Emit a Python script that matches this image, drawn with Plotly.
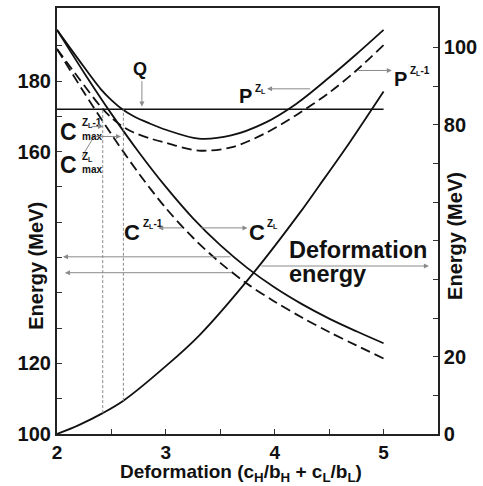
import numpy as np
import plotly.graph_objects as go

# ---------------- data ----------------
# deformation coordinate  (c_H/b_H + c_L/b_L)
x_P_ZL  = [2.0, 2.2, 2.4, 2.5, 2.6, 2.7, 2.85, 3.0, 3.3, 3.6, 3.9, 4.2, 4.5, 4.75, 5.0]
E_P_ZL  = [194.5, 186.0, 177.8, 174.6, 172.0, 170.1, 168.0, 166.2, 163.7, 164.6, 168.0, 173.6, 181.0, 187.6, 194.5]

x_P_ZL1 = [2.0, 2.2, 2.4, 2.5, 2.6, 2.7, 2.85, 3.0, 3.3, 3.6, 3.9, 4.2, 4.5, 4.75, 5.0]
E_P_ZL1 = [189.1, 180.8, 172.8, 169.6, 167.2, 165.5, 163.8, 162.5, 160.3, 161.2, 165.0, 170.4, 176.7, 183.0, 190.2]

x_C_ZL  = [2.0, 2.25, 2.5, 2.75, 3.0, 3.25, 3.5, 3.75, 4.0, 4.25, 4.5, 4.75, 5.0]
E_C_ZL  = [194.5, 182.3, 170.7, 159.9, 150.0, 141.1, 133.5, 127.0, 121.5, 116.8, 112.7, 109.1, 105.7]

x_C_ZL1 = [2.0, 2.25, 2.5, 2.75, 3.0, 3.25, 3.5, 3.75, 4.0, 4.25, 4.5, 4.75, 5.0]
E_C_ZL1 = [189.1, 176.7, 164.9, 153.9, 144.0, 135.6, 128.5, 122.5, 117.5, 113.0, 108.9, 105.1, 101.4]

# deformation energy (right axis)
x_def = [2.0, 2.2, 2.42, 2.61, 3.01, 3.31, 3.80, 4.23, 4.41, 4.69, 5.0]
E_def = [0.0, 2.3, 5.4, 8.6, 17.8, 25.6, 41.5, 57.2, 64.3, 75.5, 88.6]

Q_value = 172.0
Q_x = [2.0, 5.0]
x_Cmax = [2.42, 2.61]          # C_max^{ZL-1}, C_max^{ZL}

# axes (left scale of the original jumps between 120 and 160)
x_range = [2.0, 5.5]
left_range = [80.0, 200.7]
right_range = [0.0, 110.2]
x_tickvals = [2, 3, 4, 5]
x_ticktext = ["2", "3", "4", "5"]
x_minor = [2.5, 3.5, 4.5]
left_tickvals = [80, 100, 160, 180]
left_ticktext = ["100", "120", "160", "180"]
left_minor = [90, 110, 120, 130, 140, 150, 170, 190]
right_tickvals = [0, 20, 80, 100]
right_ticktext = ["0", "20", "80", "100"]
right_minor = [10, 30, 40, 50, 60, 70, 90]

# ---------------- figure ----------------
FONT = "Liberation Sans, Arial, sans-serif"
INK = "#111111"
GREY = "#8a8a8a"

fig = go.Figure()

solid = dict(color=INK, width=1.8, shape="spline", smoothing=0.9)
dashed = dict(color=INK, width=1.8, shape="spline", smoothing=0.9, dash="10px,5px")

fig.add_trace(go.Scatter(x=x_P_ZL, y=E_P_ZL, mode="lines", line=solid))
fig.add_trace(go.Scatter(x=x_P_ZL1, y=E_P_ZL1, mode="lines", line=dashed))
fig.add_trace(go.Scatter(x=x_C_ZL, y=E_C_ZL, mode="lines", line=solid))
fig.add_trace(go.Scatter(x=x_C_ZL1, y=E_C_ZL1, mode="lines", line=dashed))
fig.add_trace(go.Scatter(x=Q_x, y=[Q_value, Q_value], mode="lines",
                         line=dict(color=INK, width=1.6)))
fig.add_trace(go.Scatter(x=x_def, y=E_def, mode="lines", yaxis="y2", line=solid))

# vertical dotted lines from Q down to deformation-energy curve (on right scale)
q_right = (Q_value - left_range[0]) / (left_range[1] - left_range[0]) * (right_range[1] - right_range[0])
for xc in x_Cmax:
    d = float(np.interp(xc, x_def, E_def))
    fig.add_trace(go.Scatter(x=[xc, xc], y=[d, q_right], mode="lines", yaxis="y2",
                             line=dict(color=GREY, width=1, dash="3px,2px")))

ann = []

def text(x, y, t, size, xanchor="center", yanchor="middle"):
    ann.append(dict(x=x, y=y, xref="x", yref="y", text=t, showarrow=False,
                    xanchor=xanchor, yanchor=yanchor,
                    font=dict(family=FONT, size=size, color=INK, weight="bold")))

def arrow(x, y, ax, ay):
    ann.append(dict(x=x, y=y, ax=ax, ay=ay, xref="x", yref="y", axref="x", ayref="y",
                    text="", showarrow=True, arrowhead=2, arrowsize=1.0,
                    arrowwidth=1, arrowcolor=GREY))

SUP = 10
# Q
text(2.762, 183.5, "Q", 18)
arrow(2.78, 172.8, 2.78, 180.4)
# P labels
text(3.736, 175.9, "P", 20)
text(3.80, 177.8, "Z<sub>L</sub>", SUP, xanchor="left")
arrow(3.93, 177.8, 4.34, 177.8)
text(5.159, 180.5, "P", 20)
text(5.223, 182.8, "Z<sub>L</sub>-1", SUP, xanchor="left")
arrow(5.076, 183.0, 4.755, 183.0)
# C labels
text(2.689, 137.2, "C", 22)
text(2.771, 139.5, "Z<sub>L</sub>-1", SUP, xanchor="left")
arrow(2.93, 138.4, 3.16, 138.4)
text(3.837, 137.2, "C", 22)
text(3.910, 139.5, "Z<sub>L</sub>", SUP, xanchor="left")
arrow(3.75, 138.4, 3.31, 138.4)
# Deformation energy
text(4.115, 132.2, "Deformation", 23.5, xanchor="left")
text(4.115, 125.2, "energy", 23.5, xanchor="left")
arrow(2.055, 130.2, 3.607, 130.2)
arrow(2.073, 125.7, 3.616, 125.7)
arrow(5.416, 127.6, 3.864, 127.6)
# C_max labels
text(2.110, 165.7, "C", 23)
text(2.211, 168.1, "Z<sub>L</sub>-1", SUP, xanchor="left")
text(2.211, 164.4, "max", SUP, xanchor="left")
arrow(2.422, 167.1, 2.303, 167.1)
text(2.110, 156.1, "C", 23)
text(2.211, 158.4, "Z<sub>L</sub>", SUP, xanchor="left")
text(2.211, 155.0, "max", SUP, xanchor="left")
arrow(2.588, 164.3, 2.340, 164.3)

# axis titles
ttl = dict(family=FONT, size=20, color=INK, weight="bold")
ann.append(dict(x=-0.0551, y=0.395, xref="paper", yref="paper", text="Energy (MeV)",
                xanchor="center", yanchor="middle",
                textangle=-90, showarrow=False, font=ttl))
ann.append(dict(x=1.0446, y=0.465, xref="paper", yref="paper", text="Energy (MeV)",
                xanchor="center", yanchor="middle",
                textangle=-90, showarrow=False, font=ttl))
ann.append(dict(x=0.483, y=-0.0925, xref="paper", yref="paper",
                xanchor="center", yanchor="middle",
                text="Deformation (c<sub>H</sub>/b<sub>H</sub> + c<sub>L</sub>/b<sub>L</sub>)",
                showarrow=False, font=dict(family=FONT, size=19, color=INK, weight="bold")))

shapes = [dict(type="line", xref="x", yref="y", x0=2.230, y0=158.6, x1=2.340, y1=164.3,
               line=dict(color=GREY, width=1))]

tickfont = dict(family=FONT, size=20, color=INK, weight="bold")
axis_common = dict(ticks="inside", ticklen=5, tickcolor="#333", showgrid=False,
                   zeroline=False, showline=True, linecolor="#222")

fig.update_layout(
    width=483, height=486,
    margin=dict(l=57, r=45, t=6, b=52),
    paper_bgcolor="white", plot_bgcolor="white",
    showlegend=False,
    annotations=ann, shapes=shapes,
    xaxis=dict(range=x_range, tickmode="array", tickvals=x_tickvals, ticktext=x_ticktext,
               linewidth=1.6, mirror=True,
               tickfont=dict(family=FONT, size=19, color=INK, weight="bold"),
               minor=dict(tickmode="array", tickvals=x_minor, ticks="inside", ticklen=5,
                          tickcolor="#333"),
               **axis_common),
    yaxis=dict(range=left_range, tickmode="array", tickvals=left_tickvals,
               ticktext=left_ticktext, linewidth=2.2, tickfont=tickfont,
               minor=dict(tickmode="array", tickvals=left_minor, ticks="inside", ticklen=5,
                          tickcolor="#333"),
               **axis_common),
    yaxis2=dict(range=right_range, overlaying="y", side="right", tickmode="array",
                tickvals=right_tickvals, ticktext=right_ticktext, linewidth=1.6,
                tickfont=tickfont,
                minor=dict(tickmode="array", tickvals=right_minor, ticks="inside", ticklen=5,
                           tickcolor="#333"),
                **axis_common),
)

fig.write_html("out.html", config={"displayModeBar": False},
               post_script="document.body.style.margin='0px';")
